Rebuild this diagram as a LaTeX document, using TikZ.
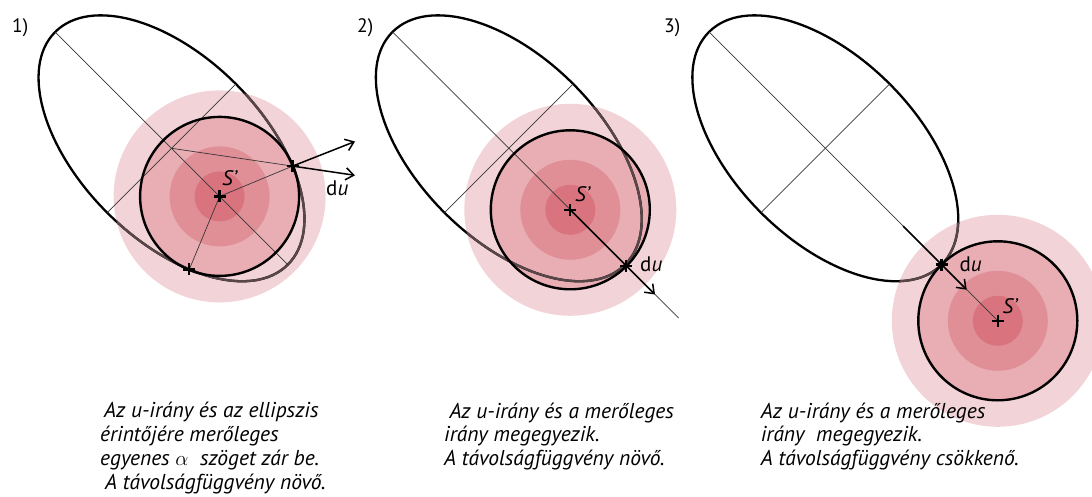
\documentclass[tikz,border=0pt]{standalone}
\usepackage{fontspec}
\newfontfamily\ptsans{PT Sans}
\usetikzlibrary{arrows.meta,calc}
\definecolor{pkA}{HTML}{F2D3D7}
\definecolor{pkB}{HTML}{E9AEB4}
\definecolor{pkC}{HTML}{E08F97}
\definecolor{pkD}{HTML}{D9737E}
\definecolor{ellgray}{RGB}{88,70,72}
\definecolor{thinc}{RGB}{55,55,55}
\tikzset{
 x=1pt,y=-1pt,
 ell/.style={line width=2.3pt},
 ellin/.style={line width=2.3pt, draw=ellgray},
 axisline/.style={line width=0.7pt, draw=thinc},
 ringline/.style={line width=2.4pt},
 darr/.style={line width=1.5pt, -{Straight Barb[length=8pt,width=12pt]}},
 lbl/.style={inner sep=0pt, anchor=base west, font=\ptsans\fontsize{21}{25}\selectfont},
 numlbl/.style={inner sep=0pt, anchor=base west, font=\ptsans\fontsize{19.5}{23}\selectfont},
 txt/.style={inner sep=0pt, anchor=base west, text height=15pt, text depth=5pt, font=\ptsans\itshape\fontsize{21.5}{24}\selectfont},
 plusm/.pic={\draw[line width=2.3pt] (-6,0)--(6,0) (0,-6)--(0,6);}
}
\newcommand\mydiscs[1]{%
 \fill[pkA] (#1) circle[radius=106];
 \fill[pkB] (#1) circle[radius=80];
 \fill[pkC] (#1) circle[radius=50];
 \fill[pkD] (#1) circle[radius=25];}
\newcommand\myellipse[2]{%
 \draw[ell, rotate around={-45:(#1)}] (#1) ellipse[x radius=164.5pt, y radius=91pt];
 \begin{scope}
 \clip (#2) circle[radius=106];
 \draw[ellin, rotate around={-45:(#1)}] (#1) ellipse[x radius=164.5pt, y radius=91pt];
 \end{scope}}
\begin{document}
\begin{tikzpicture}
\useasboundingbox (0,0) rectangle (1092,497);
% ---------- panel 1
\coordinate (E1) at (171.5,148.3);
\coordinate (S1) at (219.6,196.4);
\coordinate (T1) at (292.6,166.1);
\coordinate (L1) at (189.3,269.4);
\coordinate (M1a) at (55.2,32);
\coordinate (M1b) at (287.8,264.6);
\coordinate (N1a) at (235.8,84);
\coordinate (N1b) at (107.2,212.6);
\coordinate (A1u) at (355,141.5);
\coordinate (A1l) at (355,175.3);
\mydiscs{S1}
\myellipse{E1}{S1}
\draw[axisline] (M1a) -- (M1b);
\draw[axisline] (N1a) -- (N1b);
\draw[axisline] (E1) -- (T1);
\draw[axisline] (S1) -- (T1);
\draw[axisline] (S1) -- (L1);
\draw[ringline] (S1) circle[radius=79.5];
\draw[darr] (T1) -- (A1u);
\draw[darr] (T1) -- (A1l);
\pic at (S1) {plusm};
\pic at (T1) {plusm};
\pic at (L1) {plusm};
\node[numlbl] (n1) at (12,33) {1)};
\node[lbl] (s1) at (222,186) {\itshape S’};
\node[lbl] (du1) at (326,196) {d\textit{u}};
% ---------- panel 2
\coordinate (E2) at (508.8,148.3);
\coordinate (S2) at (570.3,209.8);
\coordinate (D2) at (626.2,265.7);
\coordinate (M2a) at (392.5,32);
\coordinate (Z2) at (678.5,318);
\coordinate (N2a) at (573.1,84);
\coordinate (N2b) at (444.5,212.6);
\coordinate (P2) at (655,294.5);
\mydiscs{S2}
\myellipse{E2}{S2}
\draw[axisline] (M2a) -- (Z2);
\draw[axisline] (N2a) -- (N2b);
\draw[ringline] (S2) circle[radius=79.5];
\draw[darr] (S2) -- (P2);
\pic at (S2) {plusm};
\pic at (D2) {plusm};
\node[numlbl] (n2) at (357,33) {2)};
\node[lbl] (s2) at (575,201.7) {\itshape S’};
\node[lbl] (du2) at (640,271.7) {d\textit{u}};
% ---------- panel 3
\coordinate (E3) at (825.3,148.3);
\coordinate (S3) at (997.8,320.8);
\coordinate (D3) at (941.6,264.6);
\coordinate (M3a) at (709,32);
\coordinate (N3a) at (889.6,84);
\coordinate (N3b) at (761,212.6);
\coordinate (Q3) at (903.1,226.1);
\coordinate (P3) at (966.7,289.7);
\mydiscs{S3}
\myellipse{E3}{S3}
\draw[axisline] (M3a) -- (S3);
\draw[axisline] (N3a) -- (N3b);
\draw[ringline] (S3) circle[radius=79.5];
\draw[darr] (Q3) -- (P3);
\pic at (S3) {plusm};
\pic at (D3) {plusm};
\node[numlbl] (n3) at (664,33) {3)};
\node[lbl] (s3) at (1002.5,313.3) {\itshape S’};
\node[lbl] (du3) at (959.3,271.7) {d\textit{u}};
% ---------- texts
\node[txt] (t11) at (104,417.7) {Az u-irány és az ellipszis};
\node[txt] (t12) at (100,441.7) {érintőjére merőleges};
\node[txt] (t13) at (100,465) {egyenes {\upshape$\alpha$}\ \ szöget zár be.};
\node[txt] (t14) at (105,489) {A távolságfüggvény növő.};
\node[txt] (t21) at (449.3,418.3) {Az u-irány és a merőleges};
\node[txt] (t22) at (444,441.7) {irány megegyezik.};
\node[txt] (t23) at (444,465) {A távolságfüggvény növő.};
\node[txt] (t31) at (760.7,418.3) {Az u-irány és a merőleges};
\node[txt] (t32) at (760.7,441.7) {irány\ \ megegyezik.};
\node[txt] (t33) at (760.7,465) {A távolságfüggvény csökkenő.};
\end{tikzpicture}
\end{document}
